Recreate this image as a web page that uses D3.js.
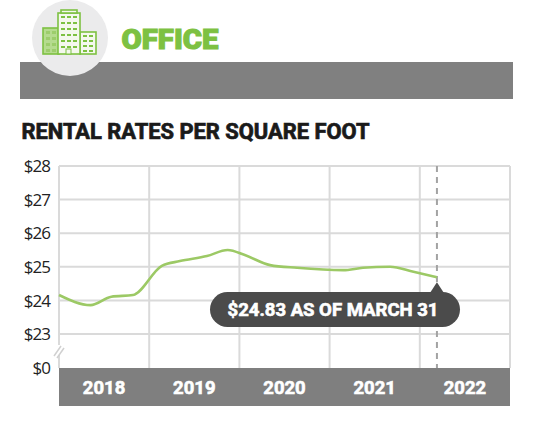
<!DOCTYPE html>
<html>
<head>
<meta charset="utf-8">
<script src="https://cdn.jsdelivr.net/npm/d3@7"></script>
<style>
  html, body { margin: 0; padding: 0; background: #fff; }
  svg { display: block; }
</style>
</head>
<body>
<svg id="chart" width="533" height="429"></svg>
<script>
// ---- data ----
const sectorTitle = "OFFICE";
const chartTitle = "RENTAL RATES PER SQUARE FOOT";
const years = [2018, 2019, 2020, 2021, 2022];
const yearLabels = ["2018", "2019", "2020", "2021", "2022"];
const valueTicks = [0, 23, 24, 25, 26, 27, 28];
const valueTickLabels = ["$0", "$23", "$24", "$25", "$26", "$27", "$28"];
const timePoints = [2018.0, 2018.35, 2018.58, 2018.82, 2019.14, 2019.34, 2019.64, 2019.87,
                    2020.06, 2020.34, 2020.64, 2021.15, 2021.37, 2021.67, 2021.93, 2022.19];
const rentValues = [24.16, 23.86, 24.11, 24.16, 25.03, 25.17, 25.32, 25.50,
                    25.35, 25.05, 24.97, 24.90, 24.97, 25.00, 24.85, 24.69];
const calloutText = "$24.83 AS OF MARCH 31";
const asOfTime = 2022.19;

(function () {
// ---- layout ----
const svg = d3.select("#chart");
const pLeft = 59, pRight = 510, pTop = 166, pBottom = 368, barH = 38;

const x = d3.scaleLinear().domain([2018, 2023]).range([pLeft, pRight]);
const y = d3.scaleLinear().domain([0, 23, 28]).range([pBottom, 334, pTop]);

// ---- header ----
svg.append("rect").attr("x", 20).attr("y", 62).attr("width", 493).attr("height", 37).attr("fill", "#808080");
svg.append("circle").attr("cx", 70).attr("cy", 38).attr("r", 38).attr("fill", "#ebebec");

// building icon
const green = "#7dc142", lightGreen = "#b5db8e";
const icon = svg.append("g").attr("stroke", green).attr("stroke-width", 1.6);
icon.append("rect").attr("x", 43).attr("y", 28).attr("width", 16).attr("height", 26).attr("fill", lightGreen);
icon.append("rect").attr("x", 80).attr("y", 32).attr("width", 16).attr("height", 22).attr("fill", "#f4f8ee");
icon.append("rect").attr("x", 58).attr("y", 13).attr("width", 22).attr("height", 41).attr("fill", "#f4f8ee");
icon.append("rect").attr("x", 61).attr("y", 10).attr("width", 16).attr("height", 3).attr("fill", "#f4f8ee");
const winG = svg.append("g").attr("fill", green);
for (let r = 0; r < 6; r++) for (let c = 0; c < 3; c++)
  winG.append("rect").attr("x", 61 + c * 6).attr("y", 16 + r * 6).attr("width", 4).attr("height", 2);
for (let r = 0; r < 4; r++) for (let c = 0; c < 2; c++)
  winG.append("rect").attr("x", 83 + c * 6).attr("y", 35 + r * 5).attr("width", 4).attr("height", 2);
for (let r = 0; r < 4; r++) for (let c = 0; c < 2; c++)
  winG.append("rect").attr("x", 46 + c * 6).attr("y", 31 + r * 6).attr("width", 4).attr("height", 3).attr("fill", "#9ccd6b");
winG.append("rect").attr("x", 66).attr("y", 49).attr("width", 5).attr("height", 5).attr("fill", "#f4f8ee").attr("stroke", green);

svg.append("text").attr("x", 121.5).attr("y", 48.5)
  .attr("font-family", "Roboto").attr("font-weight", 900).attr("font-size", 28)
  .attr("fill", green).attr("stroke", green).attr("stroke-width", 1.1)
  .attr("textLength", 97).attr("lengthAdjust", "spacingAndGlyphs")
  .text(sectorTitle);

svg.append("text").attr("x", 21.5).attr("y", 138.5)
  .attr("font-family", "Roboto").attr("font-weight", 700).attr("font-size", 21.5)
  .attr("fill", "#1a1a1a").attr("stroke", "#1a1a1a").attr("stroke-width", 0.7)
  .attr("textLength", 348).attr("lengthAdjust", "spacingAndGlyphs")
  .text(chartTitle);

// ---- grid ----
const gridColor = "#dadada";
const grid = svg.append("g").attr("stroke", gridColor).attr("stroke-width", 2);
valueTicks.filter(v => v > 0).forEach(v => {
  grid.append("line").attr("x1", pLeft).attr("x2", pRight).attr("y1", y(v)).attr("y2", y(v));
});
years.concat([2023]).forEach(yr => {
  grid.append("line").attr("x1", x(yr)).attr("x2", x(yr)).attr("y1", pTop).attr("y2", pBottom);
});

// axis break marks
svg.append("rect").attr("x", pLeft - 1).attr("y", 345).attr("width", 2).attr("height", 10).attr("fill", "#fff");
const brk = svg.append("g").attr("stroke", "#d0d0d0").attr("stroke-width", 1.5);
brk.append("line").attr("x1", 54).attr("y1", 356).attr("x2", 61).attr("y2", 346);
brk.append("line").attr("x1", 57).attr("y1", 358).attr("x2", 64).attr("y2", 348);

// y labels
svg.append("g").selectAll("text").data(valueTicks).join("text")
  .attr("x", 50).attr("y", d => y(d)).attr("dy", "0.36em")
  .attr("text-anchor", "end")
  .attr("font-family", "Open Sans").attr("font-size", 17).attr("fill", "#222")
  .attr("letter-spacing", -1)
  .text((d, i) => valueTickLabels[i]);

// dashed as-of line
svg.append("line").attr("x1", x(asOfTime)).attr("x2", x(asOfTime)).attr("y1", pTop).attr("y2", pBottom)
  .attr("stroke", "#a3a3a3").attr("stroke-width", 2).attr("stroke-dasharray", "6,5");

// ---- x bar ----
svg.append("rect").attr("x", pLeft).attr("y", pBottom).attr("width", pRight - pLeft).attr("height", barH).attr("fill", "#7f7f7f");
svg.append("g").selectAll("text").data(years).join("text")
  .attr("x", d => x(d + 0.5)).attr("y", pBottom + barH / 2).attr("dy", "0.36em")
  .attr("text-anchor", "middle")
  .attr("font-family", "Roboto").attr("font-weight", 700).attr("font-size", 18.5)
  .attr("fill", "#fff").attr("stroke", "#fff").attr("stroke-width", 0.6)
  .text((d, i) => yearLabels[i]);

// ---- line ----
const pts = timePoints.map((t, i) => [t, rentValues[i]]);
svg.append("path").datum(pts)
  .attr("d", d3.line().x(d => x(d[0])).y(d => y(d[1])).curve(d3.curveMonotoneX))
  .attr("fill", "none").attr("stroke", "#9cc965").attr("stroke-width", 2.6)
  .attr("stroke-linejoin", "round");

// ---- callout ----
const endX = x(asOfTime), endY = y(rentValues[rentValues.length - 1]);
const cg = svg.append("g");
const pillX = 210, pillW = 250, pillY = 292, pillH = 35;
cg.append("rect").attr("x", pillX).attr("y", pillY).attr("width", pillW).attr("height", pillH)
  .attr("rx", pillH / 2).attr("fill", "#4b4b4b");
cg.append("path").attr("d", `M${endX - 7},${pillY + 1} L${endX},${endY + 5} L${endX + 7},${pillY + 1} Z`)
  .attr("fill", "#4b4b4b");
cg.append("text").attr("x", pillX + pillW / 2 - 2).attr("y", pillY + pillH / 2).attr("dy", "0.36em")
  .attr("text-anchor", "middle")
  .attr("font-family", "Roboto").attr("font-weight", 700).attr("font-size", 17.5)
  .attr("fill", "#fff").attr("stroke", "#fff").attr("stroke-width", 0.6)
  .attr("textLength", 211).attr("lengthAdjust", "spacingAndGlyphs")
  .text(calloutText);
})();
</script>
</body>
</html>
